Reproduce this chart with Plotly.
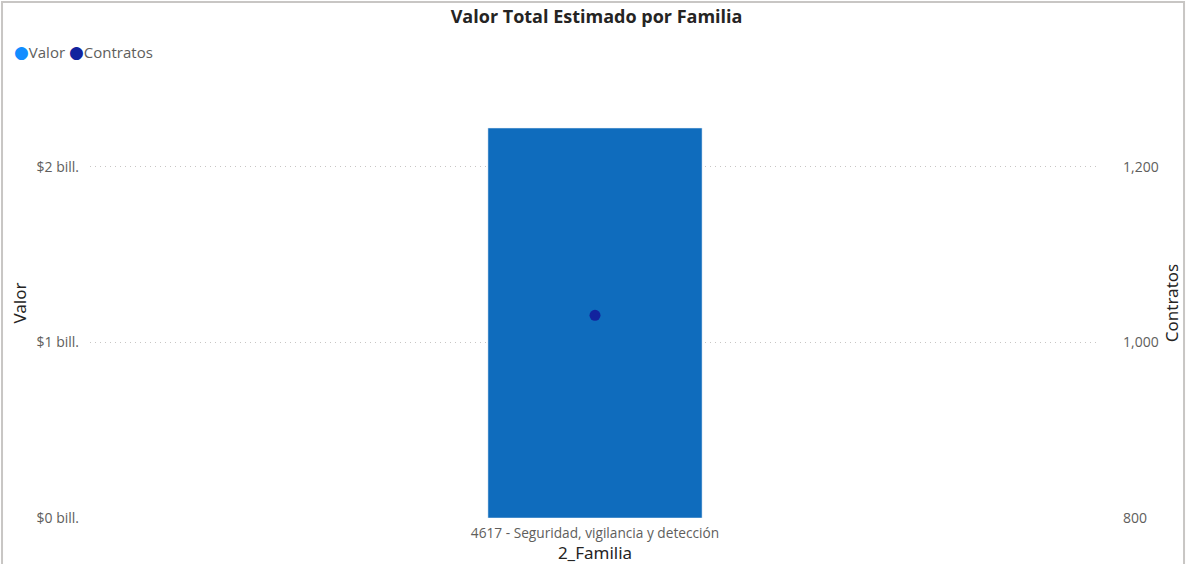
import plotly.graph_objects as go

categories = ["4617 - Seguridad, vigilancia y detección"]
valor = [2.222e9]
contratos = [1031]
valor_ticks = [0, 1e9, 2e9]
valor_ticktext = ["$0 bill.", "$1 bill.", "$2 bill."]
contratos_ticks = [800, 1000, 1200]
contratos_ticktext = ["800", "1,000", "1,200"]
series_names = ["Valor", "Contratos"]

BAR_COLOR = "#0F6CBD"
VALOR_LEGEND = "#118DFF"
DOT_COLOR = "#12239E"
TICK_COLOR = "#605E5C"
TITLE_COLOR = "#252423"

fig = go.Figure()
fig.add_trace(go.Bar(x=categories, y=valor, marker_color=BAR_COLOR, width=0.212,
                     showlegend=False, name=series_names[0]))
fig.add_trace(go.Scatter(x=categories, y=contratos, mode="markers", yaxis="y2",
                         marker=dict(color=DOT_COLOR, size=11), showlegend=False,
                         name=series_names[1]))

font_main = "Open Sans, Noto Sans, sans-serif"
font_din = "Noto Sans, DejaVu Sans, sans-serif"

dot_style = "font-family:DejaVu Sans;font-size:17px"
legend_text = (f"<span style='color:{VALOR_LEGEND};{dot_style}'>●</span>{series_names[0]} "
               f"<span style='color:{DOT_COLOR};{dot_style}'>●</span>{series_names[1]}")

fig.update_layout(
    width=1186, height=564,
    margin=dict(l=90, r=86, t=88, b=46),
    paper_bgcolor="white", plot_bgcolor="white",
    showlegend=False,
    title=dict(text="<b>Valor Total Estimado por Familia</b>", x=0.503, xanchor="center",
               y=0.97, yanchor="middle",
               font=dict(family=font_main, size=18, color=TITLE_COLOR)),
    xaxis=dict(showgrid=False, showline=False, zeroline=False, automargin=False,
               ticklabelstandoff=5,
               tickfont=dict(family=font_main, size=13.7, color=TICK_COLOR),
               title=dict(text="2_Familia", standoff=2,
                          font=dict(family=font_din, size=17, color=TITLE_COLOR))),
    yaxis=dict(range=[0, 2.45e9], tickvals=valor_ticks, ticktext=valor_ticktext,
               showgrid=True, gridcolor="#C8C6C4", griddash="1px,4px", gridwidth=1,
               zeroline=False, showline=False, ticklabelstandoff=10, automargin=False,
               tickfont=dict(family=font_main, size=14, color=TICK_COLOR),
               title=dict(text="Valor", standoff=5,
                          font=dict(family=font_din, size=17, color=TITLE_COLOR))),
    yaxis2=dict(range=[800, 800 + 2.45 * 200], tickvals=contratos_ticks,
                ticktext=contratos_ticktext, overlaying="y", side="right",
                showgrid=False, zeroline=False, showline=False, ticklabelstandoff=22,
                automargin=False,
                tickfont=dict(family=font_main, size=14, color=TICK_COLOR),
                title=dict(text="Contratos", standoff=8,
                           font=dict(family=font_din, size=17, color=TITLE_COLOR))),
    annotations=[dict(text=legend_text, xref="paper", yref="paper",
                      x=-0.077, y=1.084, xanchor="left", yanchor="middle",
                      showarrow=False,
                      font=dict(family=font_main, size=15, color=TICK_COLOR))],
    shapes=[dict(type="rect", xref="paper", yref="paper",
                 x0=-0.0871, x1=1.0832, y0=-0.3, y1=1.2,
                 line=dict(color="#C8C6C4", width=2), fillcolor="rgba(0,0,0,0)",
                 layer="below")],
)

fig.write_html("out.html", config={"displayModeBar": False},
               post_script="document.body.style.margin='0';")
